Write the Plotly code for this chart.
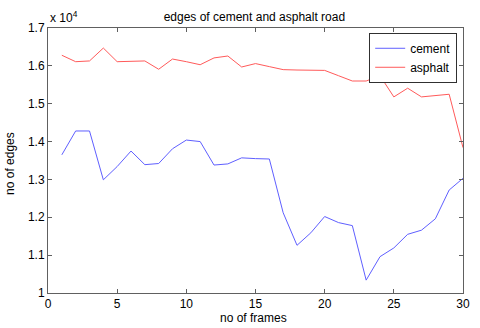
import plotly.graph_objects as go

frames = list(range(1, 31))
cement = [13650, 14280, 14280, 12990, 13340, 13750, 13390, 13420, 13810, 14040,
          14000, 13380, 13410, 13570, 13550, 13540, 12120, 11260, 11590, 12020,
          11860, 11780, 10340, 10960, 11190, 11550, 11660, 11960, 12720, 13030]
asphalt = [16280, 16110, 16130, 16470, 16110, 16110, 16130, 15910, 16180, 16110,
           16030, 16210, 16260, 15970, 16060, 15980, 15900, 15890, 15890, 15880,
           15740, 15600, 15600, 15740, 15180, 15410, 15180, 15210, 15250, 13840]

y_ticks = [10000, 11000, 12000, 13000, 14000, 15000, 16000, 17000]
y_labels = ['1', '1.1', '1.2', '1.3', '1.4', '1.5', '1.6', '1.7']

fig = go.Figure()
fig.add_trace(go.Scatter(x=frames, y=cement, mode='lines', name='cement',
                         line=dict(color='rgb(95,95,255)', width=1)))
fig.add_trace(go.Scatter(x=frames, y=asphalt, mode='lines', name='asphalt',
                         line=dict(color='rgb(255,90,90)', width=1)))

axis_style = dict(showgrid=False, zeroline=False, showline=True, mirror='ticks',
                  linecolor='#606060', linewidth=1, ticks='inside', ticklen=4,
                  tickcolor='#606060', tickfont=dict(size=12, color='black'),
                  automargin=False)

fig.update_xaxes(range=[0, 30], tickvals=[0, 5, 10, 15, 20, 25, 30],
                 ticklabelstandoff=0, **axis_style)
fig.update_yaxes(range=[10000, 17000], tickvals=y_ticks, ticktext=y_labels, **axis_style)

# axis titles as annotations so the margins stay fixed
fig.add_annotation(text='no of frames', xref='paper', yref='paper', x=0.494, y=-0.093,
                   xanchor='center', yanchor='middle', showarrow=False,
                   font=dict(size=12, color='black'))
fig.add_annotation(text='no of edges', xref='paper', yref='paper', x=-0.092, y=0.49,
                   xanchor='center', yanchor='middle', showarrow=False, textangle=-90,
                   font=dict(size=12, color='black'))
# matlab style exponent label above the y axis
fig.add_annotation(text='x 10<sup>4</sup>', xref='paper', yref='paper', x=0, y=1,
                   xanchor='left', yanchor='bottom', showarrow=False,
                   font=dict(size=12, color='black'), yshift=1)

fig.update_layout(
    width=480, height=328,
    margin=dict(l=48, r=17, t=28, b=35),
    paper_bgcolor='white', plot_bgcolor='white',
    font=dict(family='Liberation Sans, Arial, sans-serif', color='black'),
    title=dict(text='edges of cement and asphalt road', x=0.53, xanchor='center',
               y=0.95, yanchor='middle', font=dict(size=12)),
    legend=dict(x=0.986, y=0.982, xanchor='right', yanchor='top',
                bordercolor='#303030', borderwidth=1, bgcolor='white',
                font=dict(size=12), tracegroupgap=0),
    showlegend=True,
)

fig.write_html("out.html", config={'displayModeBar': False},
               post_script="document.body.style.margin='0';")
